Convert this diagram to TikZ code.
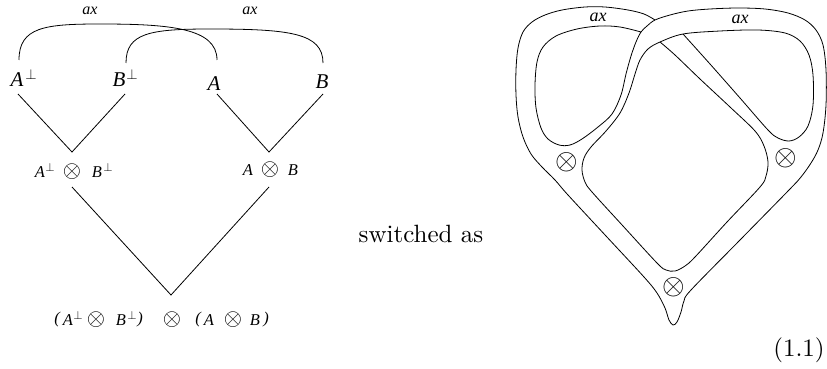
\documentclass[tikz,border=0pt]{standalone}
\usepackage{fontspec}
\newfontfamily\tmsi{Liberation Serif Italic}
\begin{document}
\begin{tikzpicture}[x=1pt,y=-1pt,
  ln/.style={line width=0.8pt},
  txt/.style={inner sep=0pt,outer sep=0pt},
  big/.style={txt,font=\tmsi\fontsize{21}{21}\selectfont},
  mid/.style={txt,font=\tmsi\fontsize{16.5}{16.5}\selectfont},
  axl/.style={txt,font=\tmsi\fontsize{16}{16}\selectfont},
  axr/.style={txt,font=\tmsi\fontsize{18}{18}\selectfont},
  perpb/.style={txt,scale=1.45},
  perpm/.style={txt,scale=1.2},
  otl/.style={txt,scale=2.35},
  otr/.style={txt,scale=2.9},
  rm/.style={txt,scale=2.5}]
\useasboundingbox (0,0) rectangle (827,369);
% ---------- left diagram ----------
\node[axl] (ax1) at (90,11) {ax};
\node[axl] (ax2) at (250,11) {ax};
\node[big] (A1) at (17,80) {A};
\node[perpb] (pA1) at (31,74) {$\perp$};
\node[big] (B1) at (119,80) {B};
\node[perpb] (pB1) at (132,74) {$\perp$};
\node[big] (A2) at (214,84) {A};
\node[big] (B2) at (322,82) {B};
\node[mid] (A3) at (40,172) {A};
\node[perpm] (pA3) at (50,167) {$\perp$};
\node[otl] (o1) at (72,172) {$\otimes$};
\node[mid] (B3) at (97,172) {B};
\node[perpm] (pB3) at (108,167) {$\perp$};
\node[mid] (A4) at (248,170) {A};
\node[otl] (o2) at (270,170) {$\otimes$};
\node[mid] (B4) at (293,170) {B};
\node[mid] (l1) at (57,320) {(};
\node[mid] (A5) at (68,320) {A};
\node[perpm] (pA5) at (78,315) {$\perp$};
\node[otl] (o3) at (96,320) {$\otimes$};
\node[mid] (B5) at (121,320) {B};
\node[perpm] (pB5) at (132,315) {$\perp$};
\node[mid] (r1) at (140,320) {)};
\node[otl] (o4) at (172,320) {$\otimes$};
\node[mid] (l2) at (198,320) {(};
\node[mid] (A6) at (209,320) {A};
\node[otl] (o5) at (233,320) {$\otimes$};
\node[mid] (B6) at (255,320) {B};
\node[mid] (r2) at (266,320) {)};
\coordinate (tA1) at (19,60);
\coordinate (tA2) at (217,60);
\coordinate (tB1) at (126,63);
\coordinate (tB2) at (323,63);
\coordinate (bA1) at (18,94);
\coordinate (bB1) at (125,94);
\coordinate (bA2) at (217,94);
\coordinate (bB2) at (323,94);
\coordinate (v1) at (72,152);
\coordinate (v2) at (269,152);
\coordinate (u1) at (72,187);
\coordinate (u2) at (269,187);
\coordinate (v3) at (171,295);
\draw[ln] (tA1) .. controls (19,27) and (45,24) .. (100,24) .. controls (170,24) and (217,28) .. (tA2);
\draw[ln] (tB1) .. controls (126,33) and (150,29) .. (210,29) .. controls (290,29) and (323,33) .. (tB2);
\draw[ln] (bA1) -- (v1) -- (bB1);
\draw[ln] (bA2) -- (v2) -- (bB2);
\draw[ln] (u1) -- (v3) -- (u2);
% ---------- middle text ----------
\node[rm] (sw) at (421,234) {switched as};
\node[rm] (eq) at (799,350) {(1.1)};
% ---------- right diagram ----------
\draw[ln] plot[smooth,tension=0.55] coordinates {
 (655,20) (644,14) (628,10) (605,7) (585,7) (562,10) (545,15) (532,22) (523,32)
 (518,48) (516,70) (516,95) (518,117) (523,137) (531,154) (542,167) (555,180)
 (568,195) (606,236) (644,277) (657,293) (665,308) (669,320) (673,325) (677,322)
 (681,312) (684,301) (691,290) (740,240) (789,190) (801,177) (811,163) (818,150)
 (823,133) (826,105) (826,70) (823,45) (816,30) (805,20) (788,13) (765,9) (738,8)
 (710,9) (688,11) (670,15) (655,20) (647,26) (641,32) (636,42) (631,56) (626,74)
 (621,95) (612,114) (598,127) (582,139) (570,145) (559,145) (548,139) (541,128)
 (536,108) (535,85) (537,62) (543,47) (556,36) (577,29) (600,26) (620,27) (641,32)};
\draw[ln] plot[smooth,tension=0.55] coordinates {
 (660,42) (675,55) (700,79) (730,107) (755,131) (764,146) (768,162) (766,176)
 (760,187) (727,222) (695,257) (685,266) (675,271) (666,270) (657,263) (623,226)
 (592,192) (585,182) (582,170) (584,158) (591,147) (606,131) (620,113) (629,93)
 (635,74) (640,60) (648,49) (660,42) (683,34) (720,31) (758,30) (785,33) (800,41)
 (809,55) (813,75) (813,105) (808,126) (799,137) (789,141) (778,138) (768,130)
 (740,98) (710,64) (683,34)};
\node[axr] (rax1) at (598,17) {ax};
\node[axr] (rax2) at (740,19) {ax};
\node[otr] (ro1) at (567,162) {$\otimes$};
\node[otr] (ro2) at (786,158) {$\otimes$};
\node[otr] (ro3) at (674,287) {$\otimes$};
\end{tikzpicture}
\end{document}
